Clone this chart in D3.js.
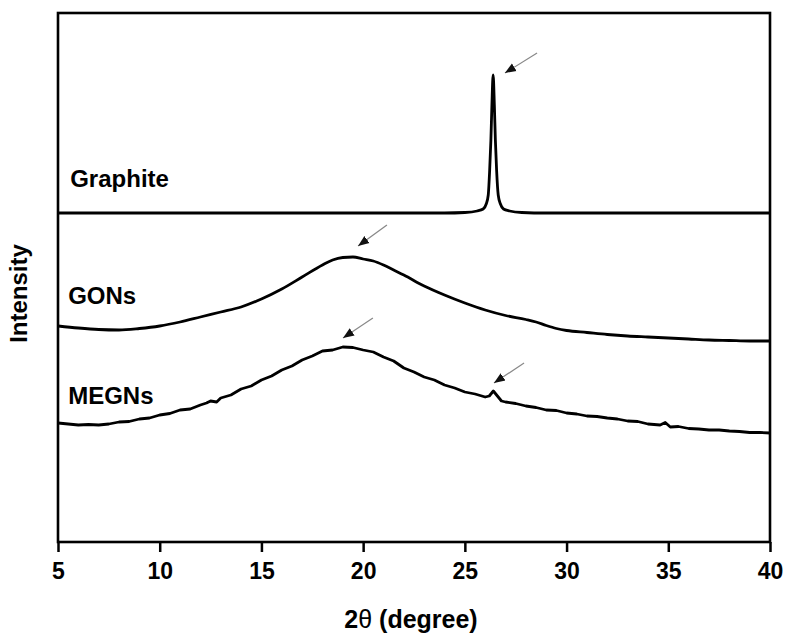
<!DOCTYPE html>
<meta charset="utf-8">
<script src="https://d3js.org/d3.v7.min.js"></script>
<style>
  body { margin: 0; background: #fff; }
  text { font-family: "Liberation Sans", Arial, sans-serif; }
</style>
<div id="chart"></div>
<script>

// XRD patterns, intensity in arbitrary units (curves offset as in the figure)
const graphiteX = [5, 10, 15, 20, 24, 25, 25.6, 25.9, 26.05, 26.15, 26.22, 26.28, 26.33, 26.39, 26.45, 26.5, 26.56, 26.64, 26.75, 26.9, 27.2, 27.8, 29, 35, 40];
const graphiteY = [329, 329, 329, 329, 329, 329.5, 331, 333, 338, 347, 372, 402, 437, 467, 437, 402, 372, 347, 338, 333, 331, 329.5, 329, 329, 329];

const gonsX = [5, 6, 7, 8, 9, 10, 11, 12, 13, 14, 15, 16, 17, 18, 18.5, 19, 19.5, 20, 20.5, 21, 21.5, 22, 23, 24, 25, 26, 27, 28, 28.5, 29, 29.5, 30, 31, 32, 33, 34, 35, 36, 37, 38, 39, 40];
const gonsY = [216, 214, 212.5, 212, 213.5, 216, 220, 225, 230, 235, 243, 253, 265, 277, 282, 284.5, 285, 283, 281, 277, 272, 267, 256, 247, 239, 232, 226.5, 222.5, 220, 216.5, 213.5, 211.5, 209.5, 207.5, 206, 205, 204, 203, 202, 201.5, 201, 201];

const megnsX = [5, 5.5, 6, 6.5, 7, 7.5, 8, 8.5, 9, 9.5, 10, 10.5, 11, 11.5, 12, 12.3, 12.5, 12.8, 13, 13.5, 14, 14.5, 15, 15.5, 16, 16.5, 17, 17.5, 18, 18.5, 19, 19.5, 20, 20.5, 21, 21.5, 22, 22.5, 23, 23.5, 24, 24.5, 25, 25.5, 26, 26.2, 26.4, 26.6, 26.8, 27, 27.5, 28, 28.5, 29, 29.5, 30, 30.5, 31, 31.5, 32, 32.5, 33, 33.5, 34, 34.6, 34.85, 35.1, 35.5, 36, 36.5, 37, 37.5, 38, 38.5, 39, 39.5, 40];
const megnsY = [119, 118, 117, 117.5, 117, 118, 120, 120.5, 123, 124, 127, 128.5, 132, 133, 137, 139, 141, 140, 144, 147, 153, 156, 162, 166, 172, 176, 182, 186, 191, 192, 195, 194.5, 192, 190, 185, 181, 174, 170, 165, 162, 157, 154, 150, 148, 145, 146, 151, 146, 141, 140, 138.5, 136, 134.5, 132, 131.5, 129, 128, 126, 125.5, 124, 123, 121, 120.5, 118, 117, 119.5, 115, 115.5, 113.5, 113, 112, 112, 111, 110.5, 109.5, 109.5, 109];

const seriesNames = ["Graphite", "GONs", "MEGNs"];
const labelPos = [[5.6, 355], [5.5, 238], [5.5, 138]];

// arrows: [tail x, tail y, tip x, tip y]
const arrows = [
  [28.55, 489, 26.97, 469],
  [21.17, 317, 19.75, 296],
  [20.48, 224, 19.01, 204],
  [27.91, 179, 26.43, 159]
];

const xTicks = [5, 10, 15, 20, 25, 30, 35, 40];

const margin = {top: 13, right: 19, bottom: 94, left: 58},
      width = 789 - margin.left - margin.right,
      height = 636 - margin.top - margin.bottom;

const svg = d3.select("#chart")
  .append("svg")
  .attr("width", 789)
  .attr("height", 636)
  .append("g")
  .attr("transform", `translate(${margin.left}, ${margin.top})`);

const x = d3.scaleLinear().domain([5, 40]).range([0, width]);
const y = d3.scaleLinear().domain([0, 529]).range([height, 0]);

// arrow head
svg.append("defs").append("marker")
  .attr("id", "head")
  .attr("viewBox", "0 0 10 10")
  .attr("refX", 10).attr("refY", 5)
  .attr("markerWidth", 11).attr("markerHeight", 11)
  .attr("markerUnits", "userSpaceOnUse")
  .attr("orient", "auto")
  .append("path")
  .attr("d", "M0,1 L10,5 L0,9 Z")
  .attr("fill", "#111");

// x axis
const xAxis = svg.append("g")
  .attr("transform", `translate(0, ${height})`)
  .call(d3.axisBottom(x).tickValues(xTicks).tickSize(10).tickSizeOuter(0).tickPadding(11));
xAxis.select(".domain").remove();
xAxis.selectAll("line").attr("stroke", "#000").attr("stroke-width", 2.5);
xAxis.selectAll("text")
  .attr("fill", "#000")
  .style("font-size", "23px")
  .style("font-weight", "bold");

// frame
svg.append("rect")
  .attr("x", 0).attr("y", 0)
  .attr("width", width).attr("height", height)
  .attr("fill", "none")
  .attr("stroke", "#000")
  .attr("stroke-width", 2.6);

const toPts = (xs, ys) => xs.map((v, i) => [v, ys[i]]);
const series = [toPts(graphiteX, graphiteY), toPts(gonsX, gonsY), toPts(megnsX, megnsY)];
const curves = [d3.curveMonotoneX, d3.curveMonotoneX, d3.curveLinear];

series.forEach((pts, i) => {
  svg.append("path")
    .datum(pts)
    .attr("fill", "none")
    .attr("stroke", "#000")
    .attr("stroke-width", 2.8)
    .attr("stroke-linejoin", "round")
    .attr("d", d3.line().x(d => x(d[0])).y(d => y(d[1])).curve(curves[i]));
});

// series labels
svg.selectAll(".lbl")
  .data(seriesNames)
  .join("text")
  .attr("class", "lbl")
  .attr("x", (d, i) => x(labelPos[i][0]))
  .attr("y", (d, i) => y(labelPos[i][1]))
  .style("font-size", "24px")
  .style("font-weight", "bold")
  .text(d => d);

// arrows
svg.selectAll(".arr")
  .data(arrows)
  .join("line")
  .attr("class", "arr")
  .attr("x1", d => x(d[0])).attr("y1", d => y(d[1]))
  .attr("x2", d => x(d[2])).attr("y2", d => y(d[3]))
  .attr("stroke", "#888")
  .attr("stroke-width", 1.2)
  .attr("marker-end", "url(#head)");

// axis titles
const xt = svg.append("text")
  .attr("x", width / 2 - 3)
  .attr("y", height + 86)
  .attr("text-anchor", "middle")
  .style("font-size", "25px")
  .style("font-weight", "bold");
xt.append("tspan").text("2");
xt.append("tspan").style("font-weight", "normal").text("θ");
xt.append("tspan").text(" (degree)");

svg.append("text")
  .attr("transform", `translate(${-31}, ${height / 2 + 16}) rotate(-90)`)
  .attr("text-anchor", "middle")
  .style("font-size", "24px")
  .style("font-weight", "bold")
  .text("Intensity");

</script>
